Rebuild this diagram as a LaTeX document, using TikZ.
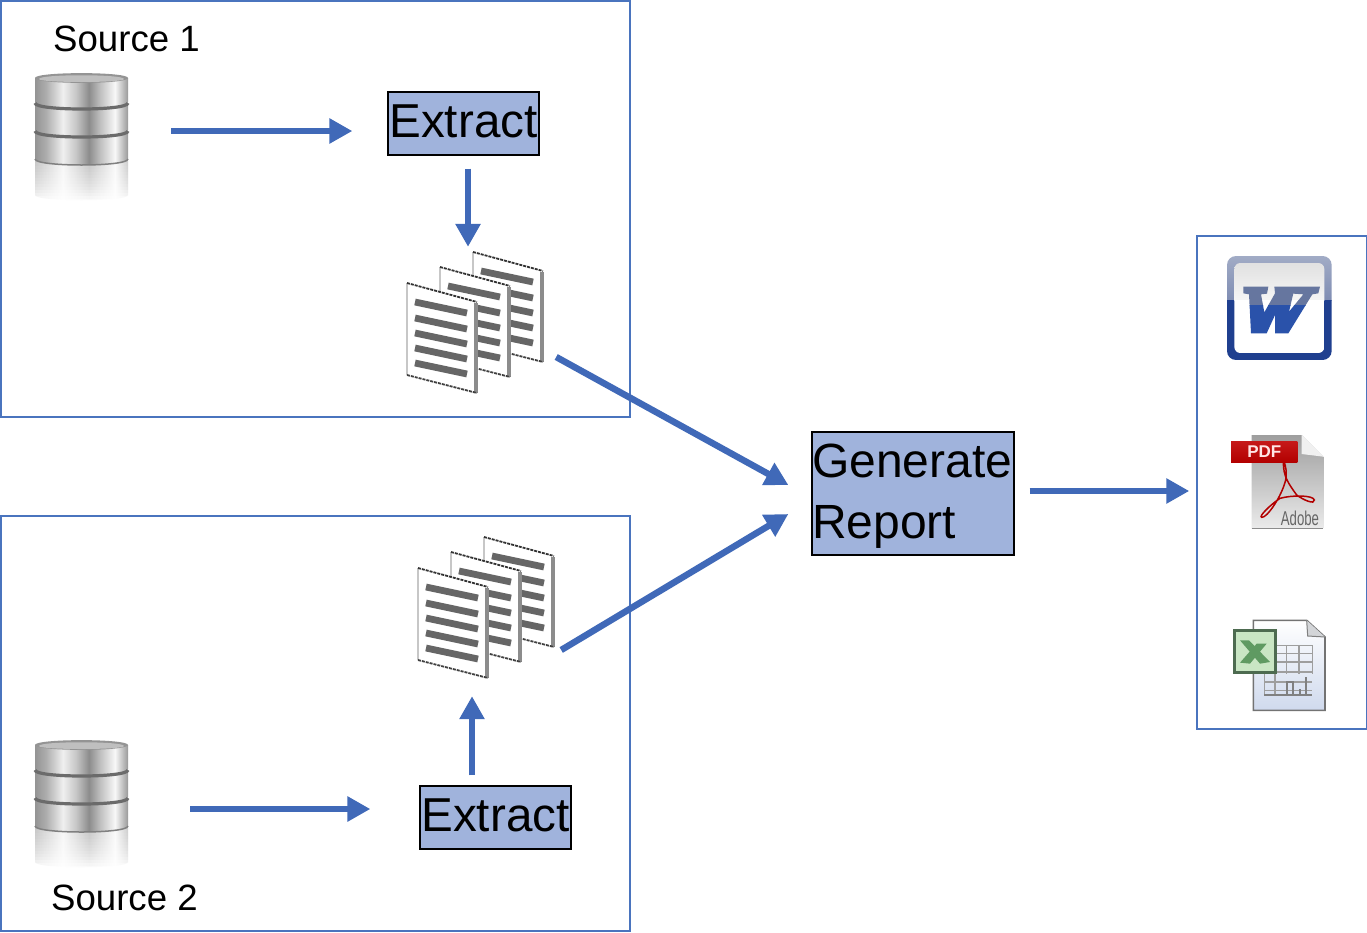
\documentclass[tikz,border=0pt]{standalone}
\usepackage{fontspec}
\setmainfont{Liberation Sans}
\usetikzlibrary{arrows.meta}
\definecolor{flow}{HTML}{4069B8}
\definecolor{frame}{HTML}{4A74BE}
\definecolor{stepfill}{HTML}{A0B3DC}
\definecolor{wordtop}{HTML}{A2ACC6}
\definecolor{wordmid}{HTML}{7F8DB3}
\definecolor{wordlow}{HTML}{1F3F8F}
\definecolor{wordwtop}{HTML}{66769F}
\definecolor{wordwlow}{HTML}{2A52AA}
\definecolor{xlgreen}{HTML}{5F9A62}
\definecolor{xlbox}{HTML}{C9E6C4}
\definecolor{xlrim}{HTML}{4D6B50}
\pgfdeclarehorizontalshading{metal}{100bp}{color(0bp)=(black!42);color(25bp)=(black!42);color(31bp)=(black!32);color(40bp)=(black!6);color(47bp)=(black!22);color(54bp)=(black!45);color(60bp)=(black!25);color(68bp)=(black!3);color(75bp)=(black!40);color(100bp)=(black!40)}
\pgfdeclarehorizontalshading{metalpale}{100bp}{color(0bp)=(black!22);color(25bp)=(black!22);color(40bp)=(black!3);color(54bp)=(black!22);color(68bp)=(black!2);color(75bp)=(black!20);color(100bp)=(black!20)}
\tikzset{
  framebox/.style={draw=frame,line width=1.5pt,fill=none,inner sep=0pt},
  stepbox/.style={draw=black,line width=1.3pt,fill=stepfill,inner sep=0pt,font=\fontsize{47.6}{61}\selectfont},
  srclabel/.style={anchor=west,inner sep=0pt,font=\fontsize{36.6}{40}\selectfont},
  iconarea/.style={inner sep=0pt},
  flowarrow/.style={draw=flow,line width=6.5pt,-{Triangle[length=23pt,width=24pt]}},
  bar/.style={draw=black!60,line width=6.8pt},
  pagebody/.style={fill=white}
}
\newcommand{\dbicon}[2]{%
 \begin{scope}[shift={(#1,#2)}]
  \shade[shading=metalpale] (0,88) -- (0,122) .. controls (0,129) and (93,129) .. (93,122) -- (93,88) -- cycle;
  \foreach \i/\o in {0/.05,3/.1,6/.14,9/.2,12/.26,15/.32,18/.38,21/.45,24/.53,27/.62,30/.72,33/.82,36/.9,39/.96}
    {\fill[white,fill opacity=\o] (-1,90+\i) rectangle (94,93+\i);}
  \shade[shading=metal] (0,60) -- (0,86) .. controls (0,94) and (93,94) .. (93,86) -- (93,60) -- cycle;
  \draw[black!50,line width=1.5pt] (0,86) .. controls (0,94) and (93,94) .. (93,86);
  \shade[shading=metal] (0,33) -- (0,57) .. controls (0,65) and (93,65) .. (93,57) -- (93,33) -- cycle;
  \draw[black!58,line width=3.2pt] (0,58) .. controls (0,66) and (93,66) .. (93,58);
  \shade[shading=metal] (0,5) -- (0,29) .. controls (0,37) and (93,37) .. (93,29) -- (93,5) -- cycle;
  \draw[black!58,line width=3.2pt] (0,30) .. controls (0,38) and (93,38) .. (93,30);
  \fill[black!42] (0,5) .. controls (0,-1.5) and (93,-1.5) .. (93,5) .. controls (93,11.5) and (0,11.5) .. (0,5) -- cycle;
  \fill[black!25] (4,6) .. controls (4,1) and (89,1) .. (89,6) .. controls (89,10) and (4,10) .. (4,6) -- cycle;
 \end{scope}}
\newcommand{\onepage}[2]{%
 \begin{scope}[shift={(#1,#2)}]
  \fill[pagebody] (0,0) -- (70,20) -- (70,110) -- (0,92) -- cycle;
  \draw[black!22,line width=2pt] (0,0) -- (0,92);
  \draw[black!45,line width=4.5pt] (69,20) -- (69,110);
  \draw[black!80,line width=1.8pt,dash pattern=on 3pt off 1pt] (0,0) -- (70,19);
  \draw[black!75,line width=1.8pt,dash pattern=on 3pt off 1pt] (0,92) -- (70,110);
  \foreach \y in {19,35,50,65,80} {\draw[bar] (8,\y) -- (60,\y+11);}
 \end{scope}}
\newcommand{\docstack}[2]{%
 \begin{scope}[shift={(#1,#2)}]
  \onepage{66}{-31}\onepage{33}{-16}\onepage{0}{0}
 \end{scope}}
\begin{document}
\begin{tikzpicture}[x=1pt,y=-1pt]
\useasboundingbox (0,0) rectangle (1367,932);
\fill[white] (0,0) rectangle (1367,932);

% frames
\node[framebox,minimum width=629pt,minimum height=416pt] (src1box) at (315.5,209) {};
\node[framebox,minimum width=629pt,minimum height=415pt] (src2box) at (315.5,723.5) {};
\node[framebox,minimum width=170pt,minimum height=493pt] (outbox) at (1282,482.5) {};

% icons
\dbicon{35}{73}
\dbicon{35}{740}
\docstack{407}{283}
\docstack{418}{568}
\node[iconarea,minimum width=93pt,minimum height=116pt] (db1) at (81.5,131) {};
\node[iconarea,minimum width=93pt,minimum height=116pt] (db2) at (81.5,798) {};
\node[iconarea,minimum width=138pt,minimum height=142pt] (docs1) at (476,322) {};
\node[iconarea,minimum width=138pt,minimum height=142pt] (docs2) at (487,607) {};

% labels
\node[srclabel] (src1) at (53,39) {Source 1};
\node[srclabel] (src2) at (51,898) {Source 2};

% steps
\node[stepbox,minimum width=151pt,minimum height=63pt,text depth=4pt] (ext1) at (463.5,123.5) {Extract};
\node[stepbox,minimum width=151pt,minimum height=63pt,text depth=4pt] (ext2) at (495.5,817.5) {Extract};
\node[stepbox,minimum width=202pt,minimum height=123pt] (report) at (913,493.5) {};
\node[inner sep=0pt,text width=200pt,align=left,font=\fontsize{48}{61}\selectfont] (reporttxt) at (912,496.5) {Generate\\Report};

% connectors
\draw[flowarrow] ([xshift=43pt]db1.east) -- ([shift={(-35,7.5)}]ext1.west);
\draw[flowarrow] ([shift={(4.5,13)}]ext1.south) -- ([shift={(-8,-4)}]docs1.north);
\draw[flowarrow] ([shift={(11,35)}]docs1.east) -- ([shift={(-23,-8.5)}]report.west);
\draw[flowarrow] ([shift={(62,11)}]db2.east) -- ([shift={(-49,-8.5)}]ext2.west);
\draw[flowarrow] ([shift={(-23.5,-10)}]ext2.north) -- ([shift={(-15,18)}]docs2.south);
\draw[flowarrow] ([shift={(5,43)}]docs2.east) -- ([shift={(-23,20.5)}]report.west);
\draw[flowarrow] ([shift={(15,-2.5)}]report.east) -- ([shift={(-7,8.5)}]outbox.west);

% Word icon
\begin{scope}[shift={(1225,255)},x=.3333pt,y=-.3333pt]
  \begin{scope}
    \clip[rounded corners=9pt] (6,3) rectangle (320,315);
    \shade[top color=wordtop,bottom color=wordmid] (0,0) rectangle (330,135);
    \fill[wordlow] (0,135) rectangle (330,320);
  \end{scope}
  \begin{scope}
    \clip[rounded corners=6pt] (28,24) rectangle (298,294);
    \shade[top color=black!12,bottom color=black!4] (20,20) rectangle (300,135);
    \fill[white] (20,135) rectangle (300,300);
  \end{scope}
  \begin{scope}
    \clip (0,0) rectangle (330,152);
    \fill[wordwtop] (55,95) -- (130,95) -- (126,116) -- (108,118) -- (118,172) -- (150,115) -- (148,95) -- (218,95) -- (205,115) -- (192,170) -- (235,118) -- (205,116) -- (210,95) -- (285,95) -- (280,115) -- (262,118) -- (190,235) -- (150,235) -- (150,180) -- (125,235) -- (78,235) -- (72,118) -- (55,115) -- cycle;
  \end{scope}
  \begin{scope}
    \clip (0,152) rectangle (330,320);
    \fill[wordwlow] (55,95) -- (130,95) -- (126,116) -- (108,118) -- (118,172) -- (150,115) -- (148,95) -- (218,95) -- (205,115) -- (192,170) -- (235,118) -- (205,116) -- (210,95) -- (285,95) -- (280,115) -- (262,118) -- (190,235) -- (150,235) -- (150,180) -- (125,235) -- (78,235) -- (72,118) -- (55,115) -- cycle;
  \end{scope}
\end{scope}

% PDF icon
\begin{scope}[shift={(1225,430)},x=.3333pt,y=-.3333pt]
  \shade[top color=black!38,bottom color=black!8] (80,15) -- (230,15) -- (295,80) -- (295,295) -- (80,295) -- cycle;
  \draw[black!45,line width=1.6pt] (80,295) -- (295,295);
  \fill[black!6] (230,15) -- (295,80) -- (230,72) -- cycle;
  \draw[red!70!black,line width=1.5pt] (175,97) .. controls (175,140) and (190,160) .. (215,195) .. controls (235,210) and (270,225) .. (268,210) .. controls (265,195) and (200,195) .. (165,205) .. controls (135,225) and (100,260) .. (110,262) .. controls (125,265) and (170,200) .. (182,150) .. controls (186,125) and (182,110) .. (178,97);
  \shade[top color=red!75!black!90!white,bottom color=red!70!black] (18,33) rectangle (217,97);
  \node[inner sep=0pt,text=white!90!red] (pdftxt) at (118,65) {\fontsize{17}{20}\selectfont\bfseries PDF};
  \node[inner sep=0pt,text=black!60,xscale=.66] (adobetxt) at (225,265) {\fontsize{20}{22}\selectfont Adobe};
\end{scope}

% Excel icon
\begin{scope}[shift={(1225,612)},x=.3333pt,y=-.3333pt]
  \shade[top color=white,bottom color=flow!25] (85,25) -- (245,25) -- (300,75) -- (300,295) -- (85,295) -- cycle;
  \draw[black!55,line width=1.6pt] (85,25) -- (245,25) -- (300,75) -- (300,295) -- (85,295) -- cycle;
  \fill[flow!20!black!18] (245,25) -- (300,75) -- (248,72) -- cycle;
  \draw[black!50,line width=1pt] (245,25) -- (248,72) -- (300,75);
  \draw[black!38,line width=1.4pt] (155,100) -- (262,100) (155,125) -- (262,125) (155,150) -- (262,150) (155,180) -- (262,180) (118,210) -- (262,210) (118,235) -- (262,235);
  \draw[black!38,line width=1.4pt] (185,100) -- (185,185) (222,100) -- (222,185) (262,100) -- (262,185) (118,185) -- (118,250) (150,185) -- (150,250);
  \draw[black!50,line width=1.8pt] (118,250) -- (262,250) (185,250) -- (185,210) -- (205,210) -- (205,250) (225,250) -- (225,230) (243,250) -- (243,195);
  \fill[xlbox,draw=xlrim,line width=3pt] (28,55) rectangle (152,180);
  \fill[xlgreen] (45,85) -- (72,85) -- (135,150) -- (105,155) -- cycle;
  \fill[xlgreen] (45,152) -- (95,95) -- (125,95) -- (75,155) -- cycle;
\end{scope}
\end{tikzpicture}
\end{document}
